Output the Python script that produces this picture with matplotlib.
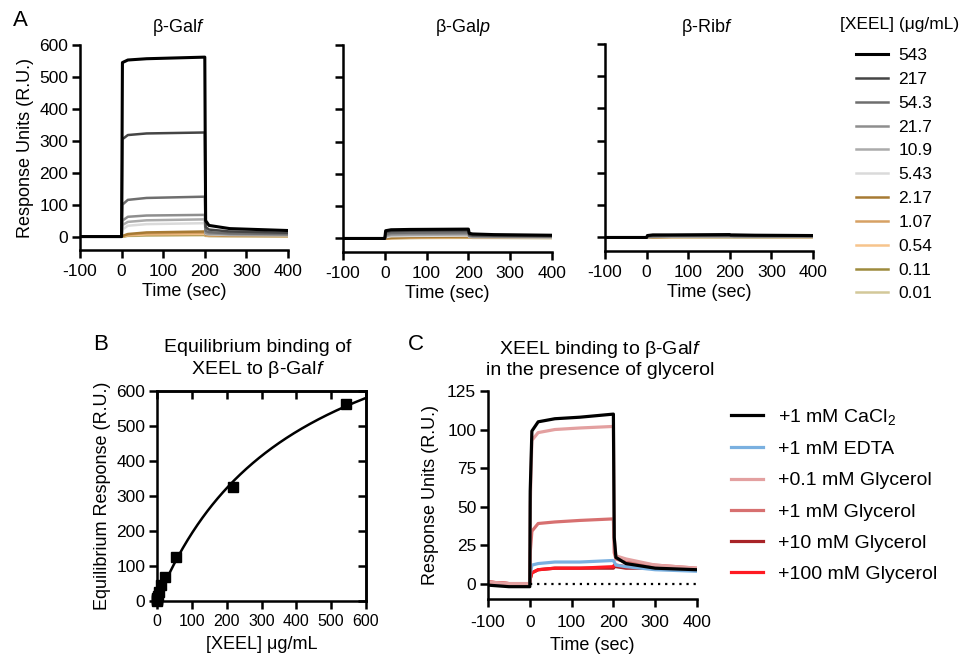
import numpy as np
import matplotlib
matplotlib.use("Agg")
import matplotlib.pyplot as plt

plt.rcParams['font.family'] = ['Liberation Sans', 'DejaVu Sans']
plt.rcParams['mathtext.fontset'] = 'custom'
plt.rcParams['mathtext.rm'] = 'Liberation Sans'
plt.rcParams['mathtext.it'] = 'Liberation Sans:italic'
plt.rcParams['axes.unicode_minus'] = False

# ---------------- data ----------------
concentrations = [543, 217, 54.3, 21.7, 10.9, 5.43, 2.17, 1.07, 0.54, 0.11, 0.01]
conc_labels = ["543", "217", "54.3", "21.7", "10.9", "5.43", "2.17", "1.07", "0.54", "0.11", "0.01"]
conc_colors = ["#000000", "#454545", "#6e6e6e", "#8e8e8e", "#ababab", "#dadada",
               "#a77a33", "#d7a164", "#f7c48c", "#9d8b3d", "#d3c899"]

# sensorgram time points (s)
t_sens = [-100, 0, 2, 15, 60, 200, 202, 210, 260, 400]

# Response units for each concentration (rows follow `concentrations`)
galf_resp = [
    [0, 0, 545, 553, 557, 562, 50, 35, 25, 19],
    [0, 0, 305, 318, 323, 326, 30, 22, 16, 12],
    [0, 0, 100, 115, 121, 125, 18, 14, 10, 8],
    [0, 0, 50, 62, 66, 68, 12, 10, 8, 6],
    [0, 0, 36, 46, 51, 54, 10, 8, 6, 5],
    [0, 0, 22, 34, 39, 42, 8, 7, 5, 4],
    [0, 0, 2, 8, 13, 16, 6, 5, 4, 3],
    [0, 0, 1, 6, 10, 12, 5, 4, 3, 2],
    [0, 0, 1, 4, 7, 8, 4, 3, 2, 2],
    [0, 0, 0, 3, 5, 6, 3, 2, 2, 1],
    [0, 0, 0, 2, 3, 4, 2, 2, 1, 1],
]
galp_resp = [
    [0, 0, 24, 27, 28, 29, 16, 14, 12, 10],
    [0, 0, 20, 23, 24, 25, 12, 10, 9, 8],
    [0, 0, 14, 17, 18, 19, 9, 8, 7, 6],
    [0, 0, 10, 13, 14, 15, 7, 6, 6, 5],
    [0, 0, 7, 10, 11, 12, 6, 5, 5, 4],
    [0, 0, 4, 7, 8, 9, 5, 4, 4, 3],
    [0, 0, 0, 2, 4, 6, 5, 4, 4, 3],
    [0, 0, 0, 1, 3, 5, 4, 4, 3, 3],
    [0, 0, 0, 1, 2, 4, 3, 3, 3, 2],
    [0, 0, 0, 1, 2, 3, 3, 2, 2, 2],
    [0, 0, 0, 1, 1, 2, 2, 2, 2, 1],
]
ribf_resp = [
    [0, 0, 6, 8, 8, 9, 8, 8, 7, 6],
    [0, 0, 5, 6, 7, 7, 6, 6, 6, 5],
    [0, 0, 3, 4, 5, 5, 5, 4, 4, 4],
    [0, 0, 2, 3, 4, 4, 4, 4, 3, 3],
    [0, 0, 1, 2, 3, 3, 3, 3, 3, 2],
    [0, 0, 1, 2, 2, 3, 3, 2, 2, 2],
    [0, 0, 0, 1, 2, 3, 3, 2, 2, 2],
    [0, 0, 0, 1, 2, 2, 2, 2, 2, 2],
    [0, 0, 0, 1, 1, 2, 2, 2, 2, 1],
    [0, 0, 0, 0, 1, 1, 1, 1, 1, 1],
    [0, 0, 0, 0, 1, 1, 1, 1, 1, 1],
]
surface_titles = ["β-Gal$\\mathit{f}$", "β-Gal$\\mathit{p}$", "β-Rib$\\mathit{f}$"]

# equilibrium responses on β-Galf
eq_response = [562, 327, 127, 68, 46, 27, 14, 9, 5, 2, 1]
bmax_fit = 967.0   # one-site binding fit
kd_fit = 400.0

# glycerol competition sensorgrams
t_gly = [-100, -50, 0, 1, 5, 20, 60, 120, 200, 202, 206, 230, 300, 400]
gly_labels = ["+1 mM CaCl$_2$", "+1 mM EDTA", "+0.1 mM Glycerol", "+1 mM Glycerol",
              "+10 mM Glycerol", "+100 mM Glycerol"]
gly_colors = ["#000000", "#7ab0e0", "#e3a0a0", "#d77070", "#a82328", "#ff1a22"]
gly_resp = [
    [-1, -2, -2, 60, 99, 105, 107, 108, 110, 30, 17, 13, 10, 9],
    [0, 0, 0, 6, 12, 13, 14, 14, 15, 14, 12, 11, 9, 8],
    [1, 0, 0, 50, 93, 98, 100, 101, 102, 30, 18, 16, 12, 10],
    [1, 0, 0, 20, 34, 39, 40, 41, 42, 20, 16, 14, 12, 10],
    [1, 0, 0, 3, 7, 9, 10, 10, 10, 11, 11, 10, 10, 9],
    [1, 0, 0, 3, 7, 9, 10, 10, 11, 12, 12, 11, 10, 9],
]
gly_draw_order = [4, 5, 1, 3, 2, 0]

# ---------------- figure ----------------
fig = plt.figure(figsize=(9.64, 6.54), dpi=100)
W, H = 964.0, 654.0

def axes_px(l, r, t, b):
    return fig.add_axes([l / W, 1 - b / H, (r - l) / W, (b - t) / H])

SPINE_LW = 1.8
TICK_FS = 12.5

def style_open(ax):
    for s in ("top", "right"):
        ax.spines[s].set_visible(False)
    for s in ("left", "bottom"):
        ax.spines[s].set_linewidth(SPINE_LW)
    ax.tick_params(direction="out", length=5.5, width=SPINE_LW, labelsize=TICK_FS, pad=3)
    ax.tick_params(axis="x", pad=4.5)

# Panel A
a_boxes = [(80, 288, 45, 250), (343, 552, 45, 252), (605, 813, 44, 251)]
a_data = [galf_resp, galp_resp, ribf_resp]
a_title_x = [178, 463, 707]
a_axes = []
for i, (box, resp) in enumerate(zip(a_boxes, a_data)):
    ax = axes_px(*box)
    a_axes.append(ax)
    style_open(ax)
    for j in reversed(range(len(concentrations))):
        lw = 2.2 if j == 0 else 1.8
        ax.plot(t_sens, resp[j], color=conc_colors[j], lw=lw, label=conc_labels[j],
                solid_joinstyle="round")
    ax.set_xlim(-100, 400)
    ax.set_ylim(-42, 600)
    ax.set_xticks([-100, 0, 100, 200, 300, 400])
    ax.set_yticks([0, 100, 200, 300, 400, 500, 600])
    ax.set_xlabel("Time (sec)", fontsize=13, labelpad=3)
    if i == 0:
        ax.set_ylabel("Response Units (R.U.)", fontsize=13, labelpad=4)
    else:
        ax.set_yticklabels([])
    fig.text(a_title_x[i] / W, 1 - 28 / H, surface_titles[i], ha="center", va="center", fontsize=13)

handles, labels = a_axes[0].get_legend_handles_labels()
handles, labels = handles[::-1], labels[::-1]
fig.legend(handles, labels, loc="upper left", bbox_to_anchor=(856 / W, 1 - 48 / H),
           frameon=False, fontsize=12.5, handlelength=1.85, handletextpad=0.6,
           labelspacing=0.5, borderpad=0, borderaxespad=0)
fig.text(900 / W, 1 - 25 / H, "[XEEL] (μg/mL)", ha="center", va="center", fontsize=12.5)
fig.text(13 / W, 1 - 20 / H, "A", ha="left", va="center", fontsize=16)

# Panel B
axb = axes_px(157, 366, 391, 601)
for s in axb.spines.values():
    s.set_linewidth(SPINE_LW)
axb.tick_params(direction="out", length=5.5, width=SPINE_LW, labelsize=TICK_FS, pad=3)
axb.tick_params(axis="x", labelsize=11.5, pad=4)
sec_x = axb.secondary_xaxis("top")
sec_x.set_xticks([0, 100, 200, 300, 400, 500, 600])
sec_x.tick_params(direction="in", length=5.5, width=SPINE_LW, labeltop=False)
sec_x.spines["top"].set_linewidth(SPINE_LW)
sec_y = axb.secondary_yaxis("right")
sec_y.set_yticks([0, 100, 200, 300, 400, 500, 600])
sec_y.tick_params(direction="in", length=5.5, width=SPINE_LW, labelright=False)
sec_y.spines["right"].set_linewidth(SPINE_LW)
xfit = np.linspace(0, 600, 300)
axb.plot(xfit, bmax_fit * xfit / (kd_fit + xfit), color="black", lw=1.8)
axb.plot(concentrations, eq_response, ls="none", marker="s", ms=7, color="black", clip_on=False)
axb.set_xlim(0, 600)
axb.set_ylim(0, 600)
axb.set_xticks([0, 100, 200, 300, 400, 500, 600])
axb.set_yticks([0, 100, 200, 300, 400, 500, 600])
axb.set_xlabel("[XEEL] μg/mL", fontsize=13, labelpad=5)
axb.set_ylabel("Equilibrium Response (R.U.)", fontsize=13, labelpad=4)
fig.text(258 / W, 1 - 360 / H, "Equilibrium binding of\nXEEL to β-Gal$\\mathit{f}$",
         ha="center", va="center", fontsize=14, linespacing=1.2)
fig.text(93 / W, 1 - 345 / H, "B", ha="left", va="center", fontsize=16)

# Panel C
axc = axes_px(488, 697, 391, 599)
style_open(axc)
axc.tick_params(labelsize=12.5)
axc.tick_params(axis="x", pad=6)
line_handles = [None] * len(gly_labels)
for k in gly_draw_order:
    ln, = axc.plot(t_gly, gly_resp[k], color=gly_colors[k], lw=2.3, label=gly_labels[k])
    line_handles[k] = ln
axc.plot([0, 400], [0, 0], ls=(0, (1, 2.2)), color="black", lw=1.6)
axc.set_xlim(-100, 400)
axc.set_ylim(-10, 125)
axc.set_xticks([-100, 0, 100, 200, 300, 400])
axc.set_yticks([0, 25, 50, 75, 100, 125])
axc.set_xlabel("Time (sec)", fontsize=13, labelpad=5)
axc.set_ylabel("Response Units (R.U.)", fontsize=13, labelpad=6)
fig.text(600 / W, 1 - 359 / H, "XEEL binding to β-Gal$\\mathit{f}$\nin the presence of glycerol",
         ha="center", va="center", fontsize=14, linespacing=1.15)
fig.text(408 / W, 1 - 345 / H, "C", ha="left", va="center", fontsize=16)
fig.legend(line_handles, gly_labels, loc="upper left", bbox_to_anchor=(731 / W, 1 - 407 / H),
           frameon=False, fontsize=14, handlelength=1.65, handletextpad=0.77,
           labelspacing=0.7, borderpad=0, borderaxespad=0)

fig.savefig("out.png", dpi=100)
